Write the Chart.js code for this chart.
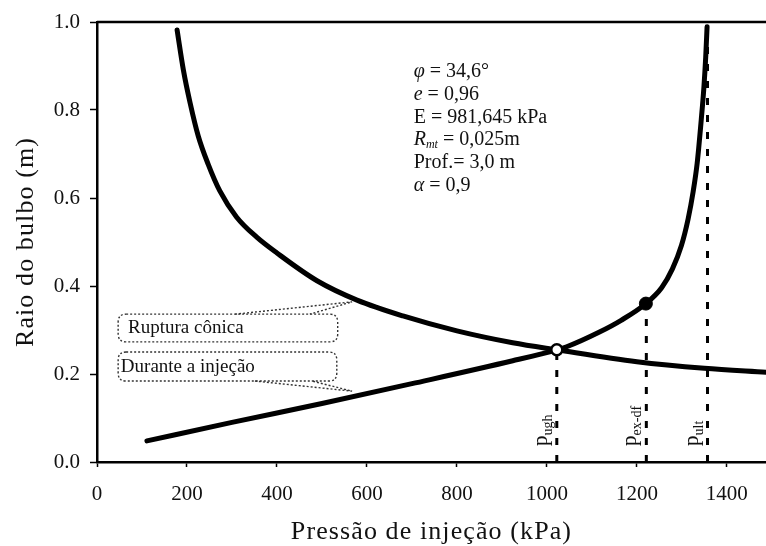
<!DOCTYPE html>
<html lang="pt">
<head>
<meta charset="utf-8">
<title>Raio do bulbo x Pressão de injeção</title>
<script src="https://cdn.jsdelivr.net/npm/chart.js@4.4.1/dist/chart.umd.min.js"></script>
<style>
  html, body { margin: 0; padding: 0; background: #fff; }
  #chart { display: block; }
</style>
</head>
<body>
<canvas id="chart" width="766" height="546"></canvas>
<script>
/* ---- data ---- */
var xTicks = [0, 200, 400, 600, 800, 1000, 1200, 1400];
var yTicks = [0.0, 0.2, 0.4, 0.6, 0.8, 1.0];

// Ruptura cônica (decreasing curve)
var ruptureX = [178, 192, 207, 225, 247, 273, 310, 355, 400, 489, 578, 680, 800, 924, 1022, 1200, 1350, 1487];
var ruptureY = [0.982, 0.891, 0.816, 0.741, 0.677, 0.616, 0.557, 0.511, 0.475, 0.412, 0.368, 0.332, 0.298, 0.271, 0.255, 0.228, 0.213, 0.204];

// Durante a injeção (increasing curve)
var injectionX = [111, 300, 500, 700, 924, 1022, 1044, 1118, 1165, 1220, 1255, 1279, 1299, 1314, 1325, 1334, 1343, 1349, 1353, 1356];
var injectionY = [0.048, 0.090, 0.133, 0.178, 0.230, 0.255, 0.262, 0.296, 0.322, 0.360, 0.396, 0.439, 0.492, 0.553, 0.614, 0.679, 0.777, 0.852, 0.920, 0.989];

// characteristic pressures (dashed verticals)
var markerNames = ['ugh', 'ex-df', 'ult'];
var markerX = [1022, 1221, 1357];
var markerTopY = [0.255, 0.360, 1.0];

var openPoint = [1022, 0.255];
var filledPoint = [1220, 0.360];

var xTitle = 'Pressão de injeção (kPa)';
var yTitle = 'Raio do bulbo (m)';

var paramLines = [
  [{ t: '\u03c6', i: true }, { t: ' = 34,6\u00b0' }],
  [{ t: 'e', i: true }, { t: ' = 0,96' }],
  [{ t: 'E = 981,645 kPa' }],
  [{ t: 'R', i: true }, { t: 'mt', i: true, sub: true }, { t: ' = 0,025m' }],
  [{ t: 'Prof.= 3,0 m' }],
  [{ t: '\u03b1', i: true }, { t: ' = 0,9' }]
];

/* ---- annotation placement (data units) ---- */
var paramAnchor = { x: 704, y: 0.875 };
var callouts = [
  { text: 'Ruptura cônica', x0: 47, x1: 535, yTop: 0.336, yBot: 0.273, textX: 69, textY: 0.293,
    tail: [[307, 0.336], [567, 0.364], [473, 0.336]] },
  { text: 'Durante a injeção', x0: 47, x1: 533, yTop: 0.250, yBot: 0.184, textX: 53, textY: 0.2045,
    tail: [[351, 0.184], [567, 0.161], [478, 0.184]] }
];

var SERIF = '"Liberation Serif", "DejaVu Serif", serif';
Chart.defaults.font.family = SERIF;
Chart.defaults.color = '#000';

function toPoints(xs, ys) {
  return xs.map(function (x, i) { return { x: x, y: ys[i] }; });
}

function drawSegments(ctx, segs, x, y, size) {
  for (var s = 0; s < segs.length; s++) {
    var seg = segs[s];
    var fs = seg.sub ? Math.round(size * 0.62) : size;
    ctx.font = (seg.i ? 'italic ' : '') + fs + 'px ' + SERIF;
    ctx.fillText(seg.t, x, y + (seg.sub ? 3 : 0));
    x += ctx.measureText(seg.t).width;
  }
}

function roundRect(ctx, x, y, w, h, r) {
  ctx.beginPath();
  ctx.moveTo(x + r, y);
  ctx.lineTo(x + w - r, y);
  ctx.quadraticCurveTo(x + w, y, x + w, y + r);
  ctx.lineTo(x + w, y + h - r);
  ctx.quadraticCurveTo(x + w, y + h, x + w - r, y + h);
  ctx.lineTo(x + r, y + h);
  ctx.quadraticCurveTo(x, y + h, x, y + h - r);
  ctx.lineTo(x, y + r);
  ctx.quadraticCurveTo(x, y, x + r, y);
  ctx.closePath();
}

var annotationPlugin = {
  id: 'annotations',
  afterDatasetsDraw: function (chart) {
    var ctx = chart.ctx;
    var xs = chart.scales.x, ys = chart.scales.y;
    var area = chart.chartArea;

    ctx.save();
    // top frame line
    ctx.strokeStyle = '#000';
    ctx.lineWidth = 2.5;
    ctx.beginPath();
    ctx.moveTo(area.left, area.top);
    ctx.lineTo(area.right, area.top);
    ctx.stroke();

    ctx.fillStyle = '#111';

    // axis titles (slightly letter-spaced like the original)
    ctx.font = '26px ' + SERIF;
    ctx.textAlign = 'center';
    ctx.textBaseline = 'middle';
    ctx.letterSpacing = '1.1px';
    ctx.fillText(xTitle, (area.left + area.right) / 2, 532);
    ctx.save();
    ctx.translate(26, (area.top + area.bottom) / 2);
    ctx.rotate(-Math.PI / 2);
    ctx.fillText(yTitle, 0, 0);
    ctx.restore();
    ctx.letterSpacing = '0px';

    ctx.textAlign = 'left';
    ctx.textBaseline = 'alphabetic';

    // parameter block
    var px = xs.getPixelForValue(paramAnchor.x);
    var py = ys.getPixelForValue(paramAnchor.y);
    for (var i = 0; i < paramLines.length; i++) {
      drawSegments(ctx, paramLines[i], px, py + i * 22.8, 20);
    }

    // callout boxes
    ctx.strokeStyle = '#333';
    ctx.lineWidth = 1.4;
    ctx.setLineDash([2, 2]);
    for (var c = 0; c < callouts.length; c++) {
      var co = callouts[c];
      var bx = xs.getPixelForValue(co.x0), bx1 = xs.getPixelForValue(co.x1);
      var by = ys.getPixelForValue(co.yTop), by1 = ys.getPixelForValue(co.yBot);
      roundRect(ctx, bx, by, bx1 - bx, by1 - by, 8);
      ctx.stroke();
      ctx.beginPath();
      for (var k = 0; k < co.tail.length; k++) {
        var tx = xs.getPixelForValue(co.tail[k][0]), ty = ys.getPixelForValue(co.tail[k][1]);
        if (k === 0) ctx.moveTo(tx, ty); else ctx.lineTo(tx, ty);
      }
      ctx.stroke();
      ctx.font = '19px ' + SERIF;
      ctx.fillText(co.text, xs.getPixelForValue(co.textX), ys.getPixelForValue(co.textY));
    }
    ctx.setLineDash([]);

    // rotated pressure labels
    var baseY = ys.getPixelForValue(0) - 16;
    for (var m = 0; m < markerNames.length; m++) {
      ctx.save();
      ctx.translate(xs.getPixelForValue(markerX[m]) - 10, baseY);
      ctx.rotate(-Math.PI / 2);
      ctx.font = '21px ' + SERIF;
      ctx.fillText('p', 0, 0);
      var w = ctx.measureText('p').width;
      ctx.font = '14px ' + SERIF;
      ctx.fillText(markerNames[m], w, 5);
      ctx.restore();
    }
    ctx.restore();
  }
};

var datasets = [];

datasets.push({
  label: 'Ruptura cônica',
  data: toPoints(ruptureX, ruptureY),
  borderColor: '#000', borderWidth: 5, pointRadius: 0,
  cubicInterpolationMode: 'monotone', borderCapStyle: 'round', borderJoinStyle: 'round', order: 2
});
datasets.push({
  label: 'Durante a injeção',
  data: toPoints(injectionX, injectionY),
  borderColor: '#000', borderWidth: 5, pointRadius: 0,
  cubicInterpolationMode: 'monotone', borderCapStyle: 'round', borderJoinStyle: 'round', order: 2
});
for (var d = 0; d < markerX.length; d++) {
  datasets.push({
    label: 'p' + markerNames[d],
    data: [{ x: markerX[d], y: 0 }, { x: markerX[d], y: markerTopY[d] }],
    borderColor: '#000', borderWidth: 3, borderDash: [7, 10], pointRadius: 0, order: 3
  });
}
datasets.push({
  label: 'ponto aberto',
  data: [{ x: openPoint[0], y: openPoint[1] }],
  showLine: false, pointRadius: 5.5, pointBorderWidth: 2.5,
  pointBackgroundColor: '#fff', pointBorderColor: '#000', order: 0
});
datasets.push({
  label: 'ponto cheio',
  data: [{ x: filledPoint[0], y: filledPoint[1] }],
  showLine: false, pointRadius: 6.5, pointBorderWidth: 1,
  pointBackgroundColor: '#000', pointBorderColor: '#000', order: 0
});

function fixPadding(s) {
  s.paddingLeft = 0; s.paddingRight = 0; s.paddingTop = 0; s.paddingBottom = 0;
}

new Chart(document.getElementById('chart').getContext('2d'), {
  type: 'line',
  data: { datasets: datasets },
  options: {
    responsive: false,
    animation: false,
    devicePixelRatio: 1,
    layout: { autoPadding: false, padding: { top: 22, right: 0, bottom: 0, left: 0 } },
    plugins: { legend: { display: false }, tooltip: { enabled: false } },
    scales: {
      x: {
        type: 'linear', min: 0, max: 1487,
        afterBuildTicks: function (s) { s.ticks = xTicks.map(function (v) { return { value: v }; }); },
        afterFit: function (s) { s.height = 84; fixPadding(s); },
        border: { display: true, color: '#000', width: 2.5 },
        grid: { display: true, drawOnChartArea: false, drawTicks: true, tickLength: 5, tickColor: '#000', tickWidth: 1.5 },
        ticks: { font: { size: 21 }, padding: 15, color: '#111', maxRotation: 0, callback: function (v) { return String(v); } },
        title: { display: false }
      },
      y: {
        type: 'linear', min: 0, max: 1,
        afterBuildTicks: function (s) { s.ticks = yTicks.map(function (v) { return { value: v }; }); },
        afterFit: function (s) { s.width = 97; fixPadding(s); },
        border: { display: true, color: '#000', width: 2.5 },
        grid: { display: true, drawOnChartArea: false, drawTicks: true, tickLength: 7, tickColor: '#000', tickWidth: 1.5 },
        ticks: { font: { size: 21 }, padding: 10, color: '#111', callback: function (v) { return Number(v).toFixed(1); } },
        title: { display: false }
      }
    }
  },
  plugins: [annotationPlugin]
});
</script>
</body>
</html>
